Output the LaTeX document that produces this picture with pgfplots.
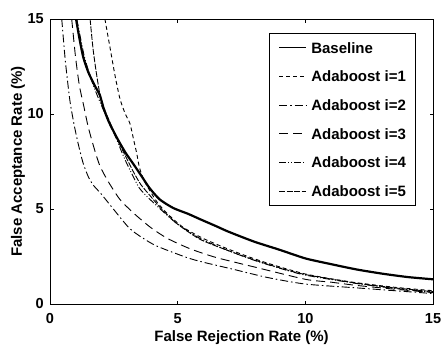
\documentclass[border=0pt]{standalone}
\usepackage{pgfplots}
\pgfplotsset{compat=1.18}
\usepackage{fontspec}
\setmainfont{Liberation Sans}
\begin{document}
\begin{tikzpicture}
\begin{axis}[
  name=ax,
  scale only axis, width=383pt, height=285pt,
  xmin=0, xmax=15, ymin=0, ymax=15,
  xtick={0,5,10,15}, ytick={0,5,10,15},
  tick align=inside, tick style={black, line width=0.6pt}, major tick length=3.5pt,
  axis line style={line width=0.8pt},
  ticklabel style={font=\fontsize{14.5}{16}\selectfont\bfseries},
  xticklabel style={anchor=center, yshift=-14.7pt},
  yticklabel style={anchor=east, inner sep=0pt, xshift=-6pt},
  /pgf/number format/assume math mode=true,
  xlabel={False Rejection Rate (\%)}, ylabel={False Acceptance Rate (\%)},
  label style={font=\fontsize{15}{17}\selectfont\bfseries},
  xlabel style={at={(axis description cs:0.5,-0.1193)}, anchor=center},
  ylabel style={at={(axis description cs:-0.0836,0.5)}, anchor=center},
  legend style={at={(0.9556,0.9526)}, anchor=north east, draw=black, line width=0.8pt,
    font=\fontsize{15}{17}\selectfont\bfseries, row sep=17.7pt, column sep=5pt,
    inner xsep=9.7pt, inner ysep=9.2pt,
    nodes={inner sep=0pt, text height=11pt, text depth=0pt}},
  legend cell align=left,
  legend image code/.code={\draw[#1, line width=0.9pt] (0pt,0pt) -- (26.7pt,0pt);},
]
\addplot[black, line width=2.2pt, smooth, tension=0.4] coordinates {(1.02,15)(1.15,14)(1.3,13)(1.5,12.2)(1.75,11.5)(1.95,11)(2.1,10.3)(2.3,9.6)(2.6,8.8)(2.94,8)(3.3,7.3)(3.6,6.7)(3.9,6.1)(4.3,5.5)(4.83,5.05)(5.4,4.75)(5.9,4.45)(6.5,4.1)(7,3.8)(8,3.28)(9,2.85)(10,2.4)(11,2.1)(12,1.82)(13,1.6)(14,1.42)(15,1.3)};
\addlegendentry{Baseline}
\addplot[black, line width=0.9pt, dash pattern=on 4pt off 3pt, smooth, tension=0.4] coordinates {(2.15,15)(2.35,13.5)(2.55,12)(2.74,10.8)(2.95,10)(3.13,9.5)(3.3,8.5)(3.4,7.9)(3.5,7.2)(3.65,6.6)(3.85,6.1)(4.2,5.35)(4.6,4.75)(5.2,4.05)(6,3.45)(7,2.88)(8,2.38)(9,1.95)(10,1.58)(11,1.33)(12,1.12)(13.5,0.88)(15,0.7)};
\addlegendentry{Adaboost i=1}
\addplot[black, line width=0.9pt, dash pattern=on 8pt off 3pt on 1.5pt off 3pt, smooth, tension=0.4] coordinates {(0.46,15)(0.6,12.8)(0.78,10.7)(0.95,9.4)(1.11,8.4)(1.3,7.4)(1.5,6.7)(1.7,6.25)(2.0,5.8)(2.48,5.0)(3.1,4.0)(3.6,3.5)(4.18,3.05)(5.35,2.45)(6,2.2)(7.2,1.82)(8.5,1.4)(10,1.05)(12,0.85)(13.5,0.7)(15,0.55)};
\addlegendentry{Adaboost i=2}
\addplot[black, line width=0.9pt, dash pattern=on 9pt off 5pt, smooth, tension=0.4] coordinates {(0.85,15)(1.0,13)(1.15,11.5)(1.31,10.5)(1.5,9.3)(1.75,8.1)(1.96,7.25)(2.3,6.4)(2.74,5.5)(3.26,4.8)(3.92,4.05)(4.6,3.45)(5.5,2.9)(6.5,2.45)(8,1.95)(10,1.3)(11,1.15)(12,0.98)(13.5,0.78)(15,0.6)};
\addlegendentry{Adaboost i=3}
\addplot[black, line width=0.9pt, dash pattern=on 7pt off 2pt on 1pt off 2pt on 1pt off 2pt, smooth, tension=0.4] coordinates {(1.05,15)(1.35,13)(1.7,11.5)(2.0,10.5)(2.3,9.6)(2.6,8.7)(2.87,7.8)(3.15,7)(3.5,6.1)(3.92,5.5)(4.4,4.9)(5,4.2)(5.88,3.45)(7,2.8)(8,2.3)(9,1.88)(10,1.52)(12,1.08)(13.5,0.82)(15,0.62)};
\addlegendentry{Adaboost i=4}
\addplot[black, line width=0.9pt, dash pattern=on 6pt off 1.5pt, smooth, tension=0.4] coordinates {(1.57,15)(1.68,13.5)(1.8,12.3)(1.96,11)(2.15,10.2)(2.4,9.4)(2.7,8.5)(2.95,7.8)(3.25,7.0)(3.55,6.3)(3.92,5.7)(4.4,4.95)(5,4.2)(5.88,3.4)(7,2.8)(8,2.32)(9,1.9)(10,1.55)(12,1.1)(13.5,0.85)(15,0.65)};
\addlegendentry{Adaboost i=5}
\end{axis}
\pgfresetboundingbox
\path[use as bounding box] ([xshift=-50pt,yshift=-42pt]ax.south west) rectangle ([xshift=10pt,yshift=19pt]ax.north east);
\end{tikzpicture}
\end{document}
